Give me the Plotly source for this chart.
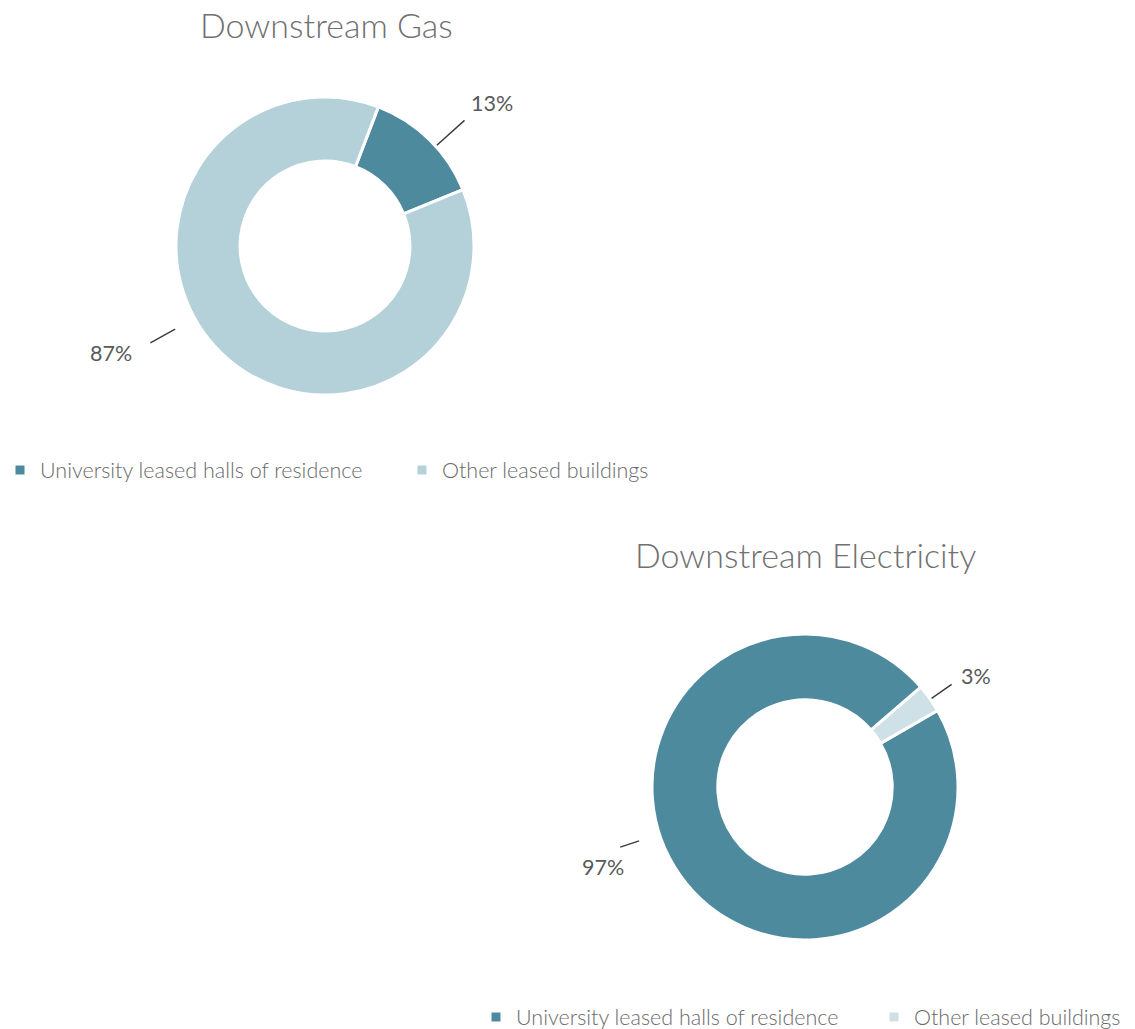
import math
import plotly.graph_objects as go

W, H = 1135, 1029

# ---- data -------------------------------------------------------------
categories = ["University leased halls of residence", "Other leased buildings"]
gas_share = [13, 87]
electricity_share = [97, 3]

# ---- styling ----------------------------------------------------------
FONT = "Lato"
DARK = "#4e8a9e"
GAS_LIGHT = "#b4d1d9"
ELEC_LIGHT = "#cde1e7"
LABEL_COLOR = "#595959"
TITLE_COLOR = "#707070"
LEGEND_COLOR = "#6a6a6a"
LEADER_COLOR = "#3a3a3a"

# Per-chart placement (pixels). Leader settings per slice:
# (angle nudge deg, inner radius factor, outer radius factor, text dx, text dy)
charts = [
    dict(
        title="Downstream Gas", values=gas_share, colors=[DARK, GAS_LIGHT],
        cx=325, cy=246, r=149, rotation=21, title_xy=(326, 24),
        legend="legend", group="gas", legend_xy=(0, 470), entrywidth=357,
        leaders=[(3.6, 1.01, 1.26, 27, -17), (16.6, 1.15, 1.34, -39, 10)],
    ),
    dict(
        title="Downstream Electricity", values=electricity_share, colors=[DARK, ELEC_LIGHT],
        cx=805, cy=787, r=153, rotation=60, title_xy=(806, 554),
        legend="legend2", group="electricity", legend_xy=(476, 1017), entrywidth=353,
        leaders=[(17.4, 1.14, 1.27, -17, 20), (0.4, 1.01, 1.17, 24, -8)],
    ),
]


def px(x):
    return x / W


def py(y):
    return 1 - y / H


fig = go.Figure()
shapes = []
annotations = []
legends = {}

for ch in charts:
    cx, cy, r = ch["cx"], ch["cy"], ch["r"]
    fig.add_trace(go.Pie(
        labels=categories,
        values=ch["values"],
        sort=False,
        direction="clockwise",
        rotation=ch["rotation"],
        hole=0.57,
        marker=dict(colors=ch["colors"], line=dict(color="white", width=3)),
        textinfo="none",
        hoverinfo="label+percent",
        domain=dict(x=[px(cx - r), px(cx + r)], y=[py(cy + r), py(cy - r)]),
        legend=ch["legend"],
        legendgroup=ch["group"],
    ))

    # data labels with leader lines, placed from each slice's mid angle
    total = sum(ch["values"])
    start = ch["rotation"]
    for v, (nudge, f_in, f_out, tdx, tdy) in zip(ch["values"], ch["leaders"]):
        span = 360 * v / total
        ang = math.radians(start + span / 2 + nudge)
        start += span
        sx, sy = math.sin(ang), -math.cos(ang)
        x0, y0 = cx + f_in * r * sx, cy + f_in * r * sy
        x1, y1 = cx + f_out * r * sx, cy + f_out * r * sy
        shapes.append(dict(type="line", xref="paper", yref="paper",
                           x0=px(x0), y0=py(y0), x1=px(x1), y1=py(y1),
                           line=dict(color=LEADER_COLOR, width=1.4)))
        pct = round(100 * v / total)
        annotations.append(dict(
            x=px(x1 + tdx), y=py(y1 + tdy), xref="paper", yref="paper",
            text=f"{pct}%", showarrow=False, xanchor="center", yanchor="middle",
            font=dict(family=FONT, size=21.5, color=LABEL_COLOR, weight=400),
        ))

    tx, ty = ch["title_xy"]
    annotations.append(dict(
        x=px(tx), y=py(ty), xref="paper", yref="paper", text=ch["title"],
        showarrow=False, xanchor="center", yanchor="middle",
        font=dict(family=FONT, size=34, color=TITLE_COLOR, weight=300),
    ))

    lx, ly = ch["legend_xy"]
    legends[ch["legend"]] = dict(
        x=px(lx), y=py(ly), orientation="h", xanchor="left", yanchor="middle",
        bgcolor="rgba(0,0,0,0)", entrywidth=ch["entrywidth"], entrywidthmode="pixels",
        font=dict(family=FONT, size=21.5, color=LEGEND_COLOR, weight=300),
        traceorder="normal",
    )

fig.update_layout(
    width=W, height=H, autosize=False,
    margin=dict(l=0, r=0, t=0, b=0, pad=0, autoexpand=False),
    paper_bgcolor="white", plot_bgcolor="white",
    showlegend=True,
    shapes=shapes,
    annotations=annotations,
    **legends,
)

fig.write_html("out.html")
